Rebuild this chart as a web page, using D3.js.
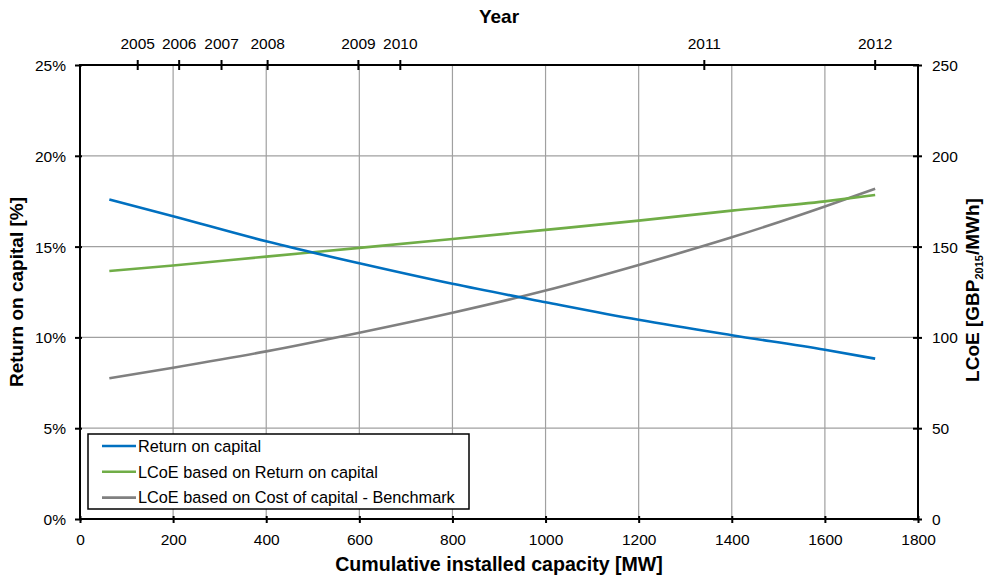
<!DOCTYPE html>
<html>
<head>
<meta charset="utf-8">
<script src="https://cdn.jsdelivr.net/npm/d3@7"></script>
<style>
  html, body { margin: 0; padding: 0; background: #fff; }
  svg { display: block; font-family: Arial, "Liberation Sans", sans-serif; }
</style>
</head>
<body>
<svg id="chart" width="985" height="579"></svg>
<script>
// Cumulative installed capacity (MW) at which each series is sampled
const capacityMW = [63, 200, 400, 600, 800, 1000, 1200, 1400, 1600, 1708];
// Return on capital, percent (left axis)
const returnOnCapital = [17.6, 16.67, 15.29, 14.08, 12.95, 11.94, 10.97, 10.12, 9.32, 8.83];
// LCoE based on return on capital, GBP2015/MWh (right axis)
const lcoeReturn = [136.6, 139.6, 144.5, 149.3, 154.2, 159.2, 164.3, 169.8, 174.9, 178.4];
// LCoE based on cost of capital (benchmark), GBP2015/MWh (right axis)
const lcoeBenchmark = [77.5, 83.3, 92.3, 102.6, 113.6, 125.8, 139.9, 155.1, 172.1, 181.9];

// Year markers on the top axis and the cumulative capacity reached in each year
const years = ["2005", "2006", "2007", "2008", "2009", "2010", "2011", "2012"];
const yearMW = [124, 213, 304, 403, 598, 688, 1341, 1708];

const xTicks = [0, 200, 400, 600, 800, 1000, 1200, 1400, 1600, 1800];
const leftTicks = [0, 5, 10, 15, 20, 25];
const rightTicks = [0, 50, 100, 150, 200, 250];

const seriesNames = ["Return on capital", "LCoE based on Return on capital", "LCoE based on Cost of capital - Benchmark"];
const seriesColors = ["#0070c0", "#70ad47", "#808080"];

const svg = d3.select("#chart");
const plotLeft = 80, plotRight = 918, plotTop = 65, plotBottom = 519;

const x = d3.scaleLinear().domain([0, 1800]).range([plotLeft, plotRight]);
const yL = d3.scaleLinear().domain([0, 25]).range([plotBottom, plotTop]);
const yR = d3.scaleLinear().domain([0, 250]).range([plotBottom, plotTop]);

// Gridlines
const grid = svg.append("g").attr("stroke", "#a0a0a0").attr("stroke-width", 1.2);
grid.selectAll("line.v").data(xTicks.slice(1, -1)).join("line").attr("class", "v")
  .attr("x1", d => x(d)).attr("x2", d => x(d)).attr("y1", plotTop).attr("y2", plotBottom);
grid.selectAll("line.h").data(leftTicks.slice(1, -1)).join("line").attr("class", "h")
  .attr("x1", plotLeft).attr("x2", plotRight).attr("y1", d => yL(d)).attr("y2", d => yL(d));

const fontSize = 15.5;

// Bottom axis
const xAxis = d3.axisBottom(x).tickValues(xTicks).tickSize(0).tickPadding(0).tickFormat(d3.format("d"));
const gx = svg.append("g").attr("transform", `translate(0,${plotBottom})`).call(xAxis);
gx.select(".domain").remove();
gx.selectAll(".tick line").remove();
gx.selectAll(".tick").append("line").attr("y1", -3).attr("y2", 4).attr("stroke", "#000").attr("stroke-width", 2);
gx.selectAll(".tick text").attr("y", 26).attr("dy", 0).attr("font-size", fontSize).attr("fill", "#000");

// Left axis
const yAxisL = d3.axisLeft(yL).tickValues(leftTicks).tickSize(0).tickPadding(0).tickFormat(d => d + "%");
const gl = svg.append("g").attr("transform", `translate(${plotLeft},0)`).call(yAxisL);
gl.select(".domain").remove();
gl.selectAll(".tick line").remove();
gl.selectAll(".tick").append("line").attr("x1", -5).attr("x2", 2).attr("stroke", "#000").attr("stroke-width", 2);
gl.selectAll(".tick text").attr("x", -14).attr("dy", "0.35em").attr("font-size", fontSize).attr("fill", "#000");

// Right axis
const yAxisR = d3.axisRight(yR).tickValues(rightTicks).tickSize(0).tickPadding(0).tickFormat(d3.format("d"));
const gr = svg.append("g").attr("transform", `translate(${plotRight},0)`).call(yAxisR);
gr.select(".domain").remove();
gr.selectAll(".tick line").remove();
gr.selectAll(".tick").append("line").attr("x1", -5).attr("x2", 4).attr("stroke", "#000").attr("stroke-width", 2);
gr.selectAll(".tick text").attr("x", 14).attr("dy", "0.35em").attr("font-size", fontSize).attr("fill", "#000");

// Top axis: year markers
const gt = svg.append("g").attr("transform", `translate(0,${plotTop})`);
const yt = gt.selectAll("g").data(years).join("g")
  .attr("transform", (d, i) => `translate(${x(yearMW[i])},0)`);
yt.append("line").attr("y1", -5).attr("y2", 5).attr("stroke", "#000").attr("stroke-width", 2);
yt.append("text").attr("y", -16).attr("text-anchor", "middle").attr("font-size", fontSize).text(d => d);

// Plot frame
const frame = svg.append("g").attr("stroke", "#000").attr("stroke-width", 2).attr("fill", "none");
frame.append("line").attr("x1", plotLeft).attr("x2", plotRight).attr("y1", plotTop).attr("y2", plotTop);
frame.append("line").attr("x1", plotLeft).attr("x2", plotRight).attr("y1", plotBottom).attr("y2", plotBottom);
frame.append("line").attr("x1", plotLeft).attr("x2", plotLeft).attr("y1", plotTop - 1).attr("y2", plotBottom + 1);
frame.append("line").attr("x1", plotRight).attr("x2", plotRight).attr("y1", plotTop - 1).attr("y2", plotBottom + 1);

// Series lines
const pts = vals => capacityMW.map((c, i) => [c, vals[i]]);
const lineL = d3.line().x(d => x(d[0])).y(d => yL(d[1])).curve(d3.curveMonotoneX);
const lineR = d3.line().x(d => x(d[0])).y(d => yR(d[1])).curve(d3.curveMonotoneX);
const lines = svg.append("g").attr("fill", "none").attr("stroke-width", 2.6);
lines.append("path").attr("d", lineR(pts(lcoeBenchmark))).attr("stroke", seriesColors[2]);
lines.append("path").attr("d", lineR(pts(lcoeReturn))).attr("stroke", seriesColors[1]);
lines.append("path").attr("d", lineL(pts(returnOnCapital))).attr("stroke", seriesColors[0]);

// Legend
const lg = svg.append("g");
lg.append("rect").attr("x", 88).attr("y", 434).attr("width", 381).attr("height", 75)
  .attr("fill", "#fff").attr("stroke", "#000").attr("stroke-width", 1.5);
const li = lg.selectAll("g.item").data(seriesNames).join("g").attr("class", "item")
  .attr("transform", (d, i) => `translate(0,${446 + i * 25.8})`);
li.append("line").attr("x1", 102).attr("x2", 136).attr("y1", 0).attr("y2", 0)
  .attr("stroke", (d, i) => seriesColors[i]).attr("stroke-width", 2.6);
li.append("text").attr("x", 138).attr("dy", "0.35em").attr("font-size", 16.3).text(d => d);

// Axis titles
svg.append("text").attr("x", 499).attr("y", 23).attr("text-anchor", "middle")
  .attr("font-size", 19).attr("font-weight", "bold").text("Year");
svg.append("text").attr("x", 499).attr("y", 571).attr("text-anchor", "middle")
  .attr("font-size", 19.6).attr("font-weight", "bold").text("Cumulative installed capacity [MW]");
svg.append("text").attr("transform", "translate(23,292) rotate(-90)").attr("text-anchor", "middle")
  .attr("font-size", 19).attr("font-weight", "bold").text("Return on capital [%]");
const rt = svg.append("text").attr("transform", "translate(979,290) rotate(-90)").attr("text-anchor", "middle")
  .attr("font-size", 19).attr("font-weight", "bold");
rt.append("tspan").text("LCoE [GBP");
rt.append("tspan").attr("font-size", 11).attr("dy", 4).text("2015");
rt.append("tspan").attr("dy", -4).text("/MWh]");
</script>
</body>
</html>
